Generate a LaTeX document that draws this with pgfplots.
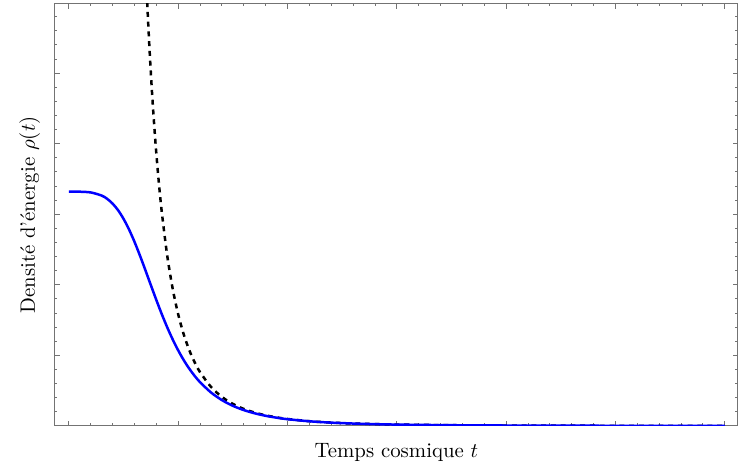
\documentclass[border=0pt]{standalone}
\usepackage{pgfplots}
\pgfplotsset{compat=1.18}
\begin{document}
\begin{tikzpicture}
\begin{axis}[
  scale only axis, width=328.4pt, height=202.9pt,
  xmin=-0.128, xmax=6.12, ymin=0, ymax=5.98,
  xtick={0,1,2,3,4,5,6}, ytick={0,1,2,3,4,5,6},
  minor x tick num=4, minor y tick num=4,
  xticklabels={}, yticklabels={},
  axis line style={black!55, line width=0.5pt},
  every tick/.style={black!55, line width=0.45pt},
  major tick length=2.3pt, minor tick length=1.2pt,
  xlabel={Temps cosmique $t$},
  ylabel={Densité d'énergie $\rho(t)$},
  xlabel style={at={(axis description cs:0.5,-0.062)}, anchor=center},
  ylabel style={at={(axis description cs:-0.037,0.5)}, anchor=center},
  clip=true,
]
\addplot[black, line width=1.2pt, dash pattern=on 2.4pt off 2.3pt, smooth] coordinates {
(0.68,7.390) (0.70,6.581) (0.72,5.879) (0.74,5.269) (0.76,4.736) (0.78,4.269)
(0.80,3.857) (0.82,3.495) (0.85,3.027) (0.90,2.408) (0.95,1.940) (1.00,1.580)
(1.05,1.300) (1.10,1.079) (1.15,0.9034) (1.20,0.7620) (1.30,0.5532) (1.40,0.4113)
(1.50,0.3121) (1.60,0.2411) (1.70,0.1892) (1.80,0.1505) (1.90,0.1212) (2.00,0.0988)
(2.2,0.0674) (2.4,0.0476) (2.6,0.0346) (2.8,0.0257) (3.0,0.0195) (3.5,0.01053)
(4.0,0.00617) (4.5,0.00385) (5.0,0.00253) (5.5,0.00173) (6.0,0.00122)
};
\addplot[blue, line width=1.2pt, smooth] coordinates {
(0,3.320) (0.1,3.3193) (0.2,3.3089) (0.3,3.2645) (0.35,3.2186) (0.4,3.1506)
(0.45,3.0567) (0.5,2.9346) (0.55,2.7846) (0.6,2.6094) (0.65,2.4144) (0.7,2.2067)
(0.75,1.9942) (0.8,1.7843) (0.85,1.5833) (0.9,1.3958) (0.95,1.2244) (1.0,1.0705)
(1.05,0.9341) (1.1,0.8144) (1.15,0.7101) (1.2,0.6197) (1.3,0.4742) (1.4,0.3660)
(1.5,0.2853) (1.6,0.2248) (1.7,0.1790) (1.8,0.1440) (1.9,0.1170) (2.0,0.0959)
(2.2,0.0661) (2.4,0.0469) (2.6,0.0342) (2.8,0.0255) (3.0,0.0194) (3.5,0.01050)
(4.0,0.00616) (4.5,0.00385) (5.0,0.00253) (5.5,0.00173) (6.0,0.00122)
};
\end{axis}
\pgfresetboundingbox
\path[use as bounding box] ([shift={(-26.4pt,-20.2pt)}]current axis.south west) rectangle ([shift={(1pt,1.9pt)}]current axis.north east);
\end{tikzpicture}
\end{document}
